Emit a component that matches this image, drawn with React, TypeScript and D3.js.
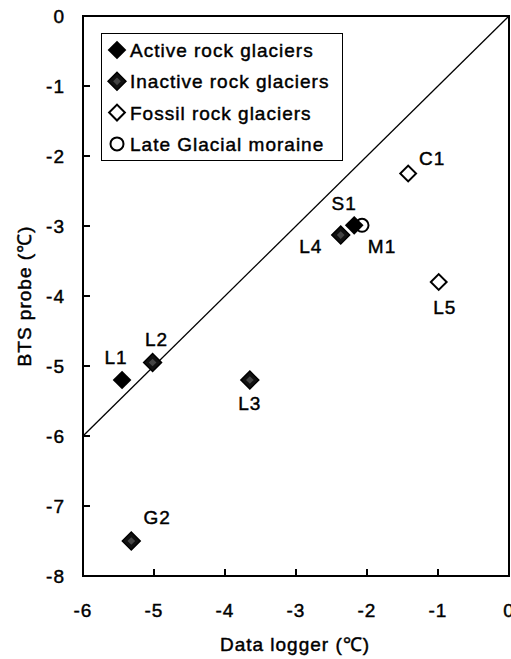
import React from 'react';
import * as d3 from 'd3';

// series and points
const groups = ['Active rock glaciers', 'Inactive rock glaciers', 'Fossil rock glaciers', 'Late Glacial moraine'];
const sites = ['L1', 'L2', 'L3', 'G2', 'S1', 'L4', 'M1', 'C1', 'L5'];
const dataLogger = [-5.45, -5.02, -3.65, -5.32, -2.18, -2.37, -2.07, -1.42, -0.99];
const btsProbe = [-5.2, -4.95, -5.2, -7.5, -2.99, -3.13, -2.99, -2.25, -3.8];
const siteGroup = [0, 1, 1, 1, 0, 1, 3, 2, 2];
// label placement relative to marker, in px
const labelDx = [-6, 4, 0, 26, -10, -30, 20, 24, 6];
const labelDy = [-23, -24, 23, -24, -22, 11, 21, -16, 25];

const xTicks = [-6, -5, -4, -3, -2, -1, 0];
const yTicks = [0, -1, -2, -3, -4, -5, -6, -7, -8];

const W = 511;
const H = 659;
const plot = { left: 83, right: 509, top: 16, bottom: 576 };
const font = '"Liberation Sans", Arial, sans-serif';

const x = d3.scaleLinear().domain([-6, 0]).range([plot.left, plot.right]);
const y = d3.scaleLinear().domain([-8, 0]).range([plot.bottom, plot.top]);

const diamond = (size: number) => d3.symbol(d3.symbolSquare, size)() as string;

const Marker = ({ g, cx, cy }: { g: number; cx: number; cy: number }) => {
  if (g === 3) {
    return <circle cx={cx} cy={cy} r={6.5} fill="#fff" stroke="#000" strokeWidth={2} />;
  }
  const t = `translate(${cx},${cy}) rotate(45)`;
  if (g === 2) {
    return <path d={diamond(125)} transform={t} fill="#fff" stroke="#000" strokeWidth={2} />;
  }
  if (g === 1) {
    return (
      <g transform={t}>
        <path d={diamond(160)} fill="#111" stroke="#000" strokeWidth={1.5} />
        <path d={diamond(30)} fill="#444" />
      </g>
    );
  }
  return <path d={diamond(175)} transform={t} fill="#000" />;
};

// circles first, then hollow, then filled diamonds on top
const order = d3.range(sites.length).sort((a, b) => d3.descending(siteGroup[a], siteGroup[b]));

export default function App() {
  const txt = {
    fontFamily: font, fontSize: 19, letterSpacing: 1, fill: '#000',
    stroke: '#000', strokeWidth: 0.45,
  };
  return (
    <svg width={W} height={H} style={{ position: 'absolute', left: 0, top: 0, background: '#fff' }}>
      {/* 1:1 line */}
      <line x1={x(-6)} y1={y(-6)} x2={x(0)} y2={y(0)} stroke="#000" strokeWidth={1.3} />

      {/* ticks, pointing inward */}
      {xTicks.map(t => (
        <g key={'x' + t}>
          <line x1={x(t)} x2={x(t)} y1={plot.bottom} y2={plot.bottom - 7} stroke="#000" strokeWidth={2} />
          <text x={x(t)} y={617} textAnchor="middle" {...txt}>{t}</text>
        </g>
      ))}
      {yTicks.map(t => (
        <g key={'y' + t}>
          <line x1={plot.left} x2={plot.left + 7} y1={y(t)} y2={y(t)} stroke="#000" strokeWidth={2} />
          <text x={65} y={y(t) + 7} textAnchor="end" {...txt}>{t}</text>
        </g>
      ))}

      <rect x={plot.left} y={plot.top} width={plot.right - plot.left} height={plot.bottom - plot.top}
        fill="none" stroke="#000" strokeWidth={2} />

      {/* points */}
      {order.map(i => (
        <Marker key={sites[i]} g={siteGroup[i]} cx={x(dataLogger[i])} cy={y(btsProbe[i])} />
      ))}
      {sites.map((s, i) => (
        <text key={'l' + s} x={x(dataLogger[i]) + labelDx[i]} y={y(btsProbe[i]) + labelDy[i] + 7}
          textAnchor="middle" {...txt}>{s}</text>
      ))}

      {/* legend */}
      <rect x={101.5} y={33.5} width={241} height={127} fill="#fff" stroke="#000" strokeWidth={1} />
      {groups.map((g, i) => (
        <g key={g}>
          <Marker g={i} cx={117} cy={50 + i * 31.3} />
          <text x={130} y={50 + i * 31.3 + 7} {...txt}>{g}</text>
        </g>
      ))}

      {/* axis titles */}
      <text x={295} y={651} textAnchor="middle" {...txt}>Data logger (℃)</text>
      <text transform={`translate(31,${(plot.top + plot.bottom) / 2}) rotate(-90)`} textAnchor="middle" {...txt}>
        BTS probe (℃)
      </text>
    </svg>
  );
}
